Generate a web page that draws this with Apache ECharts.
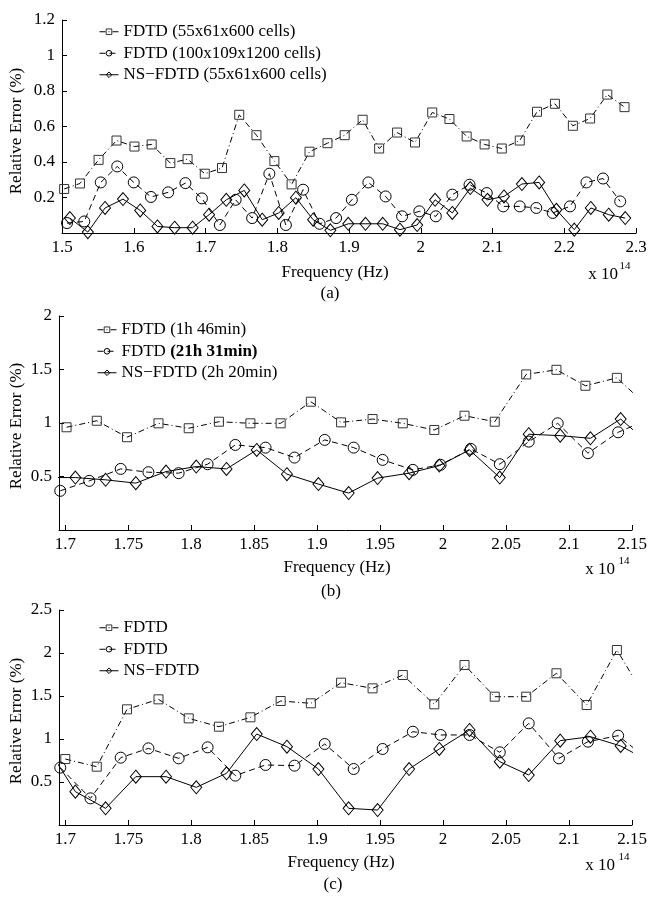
<!DOCTYPE html>
<html>
<head>
<meta charset="utf-8">
<title>Relative error vs frequency</title>
<script src="https://cdn.jsdelivr.net/npm/echarts@6/dist/echarts.min.js"></script>
<style>
  html, body { margin: 0; padding: 0; background: #fff; }
  #chart { width: 649px; height: 898px; }
</style>
</head>
<body>
<div id="chart"></div>
<script>
// panel (a) - frequency in 1e14 Hz, error in %
const aSqFreq = [1.503,1.525,1.551,1.576,1.601,1.625,1.651,1.675,1.699,1.723,1.747,1.771,1.796,1.820,1.845,1.870,1.894,1.919,1.942,1.967,1.992,2.016,2.040,2.064,2.089,2.113,2.138,2.162,2.187,2.212,2.236,2.260,2.284];
const aSqErr  = [0.248,0.279,0.412,0.521,0.487,0.499,0.394,0.416,0.334,0.366,0.666,0.551,0.405,0.274,0.458,0.506,0.551,0.638,0.476,0.566,0.510,0.679,0.642,0.544,0.499,0.476,0.521,0.683,0.728,0.604,0.645,0.780,0.709];
const aCiFreq = [1.507,1.531,1.554,1.577,1.600,1.624,1.648,1.672,1.695,1.720,1.742,1.765,1.789,1.812,1.836,1.859,1.882,1.904,1.927,1.951,1.974,1.998,2.021,2.044,2.068,2.092,2.115,2.138,2.161,2.184,2.208,2.231,2.254,2.278];
const aCiErr  = [0.056,0.065,0.285,0.375,0.285,0.203,0.229,0.281,0.195,0.045,0.187,0.084,0.334,0.045,0.244,0.052,0.084,0.187,0.285,0.206,0.094,0.122,0.094,0.216,0.272,0.225,0.150,0.150,0.141,0.113,0.150,0.285,0.307,0.178];
const aDiFreq = [1.511,1.536,1.560,1.585,1.609,1.633,1.657,1.682,1.705,1.729,1.754,1.779,1.802,1.826,1.850,1.874,1.899,1.923,1.947,1.971,1.995,2.020,2.044,2.069,2.093,2.116,2.141,2.165,2.189,2.214,2.237,2.262,2.285];
const aDiErr  = [0.084,0.005,0.141,0.191,0.127,0.037,0.030,0.030,0.103,0.187,0.240,0.075,0.113,0.199,0.075,0.015,0.052,0.052,0.052,0.019,0.045,0.187,0.113,0.253,0.187,0.206,0.276,0.285,0.131,0.019,0.141,0.103,0.084];

// panel (b)
const bSqFreq = [1.701,1.725,1.749,1.774,1.798,1.822,1.847,1.871,1.895,1.919,1.944,1.968,1.993,2.017,2.041,2.066,2.090,2.113,2.138,2.162];
const bSqErr  = [0.960,1.021,0.867,0.997,0.951,1.012,0.997,0.997,1.199,1.006,1.037,0.997,0.935,1.068,1.012,1.454,1.497,1.348,1.422,1.16];
const bCiFreq = [1.696,1.719,1.744,1.766,1.790,1.813,1.835,1.859,1.882,1.906,1.929,1.952,1.976,1.998,2.022,2.045,2.068,2.091,2.115,2.139,2.162];
const bCiErr  = [0.366,0.459,0.571,0.540,0.531,0.615,0.795,0.770,0.677,0.842,0.770,0.655,0.562,0.609,0.758,0.615,0.826,0.997,0.718,0.913,1.03];
const bDiFreq = [1.684,1.708,1.732,1.756,1.780,1.804,1.828,1.852,1.876,1.901,1.925,1.948,1.973,1.997,2.021,2.045,2.068,2.093,2.117,2.141,2.165];
const bDiErr  = [0.49,0.490,0.469,0.438,0.546,0.593,0.571,0.748,0.522,0.429,0.345,0.485,0.531,0.602,0.748,0.490,0.895,0.882,0.857,1.037,0.79];

// panel (c)
const cSqFreq = [1.700,1.725,1.749,1.774,1.798,1.822,1.847,1.871,1.895,1.919,1.944,1.968,1.993,2.017,2.041,2.066,2.090,2.114,2.138,2.162];
const cSqErr  = [0.767,0.678,1.345,1.461,1.240,1.143,1.252,1.442,1.415,1.655,1.589,1.744,1.403,1.860,1.492,1.492,1.764,1.395,2.035,1.45];
const cCiFreq = [1.696,1.720,1.744,1.766,1.790,1.813,1.835,1.859,1.882,1.906,1.929,1.952,1.976,1.998,2.021,2.045,2.068,2.092,2.115,2.139,2.162];
const cCiErr  = [0.667,0.310,0.783,0.891,0.775,0.903,0.574,0.698,0.690,0.942,0.651,0.884,1.085,1.047,1.047,0.845,1.182,0.775,0.969,1.039,0.77];
const cDiFreq = [1.684,1.708,1.732,1.756,1.780,1.804,1.828,1.852,1.876,1.901,1.925,1.948,1.973,1.997,2.021,2.045,2.068,2.093,2.117,2.141,2.165];
const cDiErr  = [0.94,0.388,0.194,0.562,0.562,0.438,0.601,1.058,0.911,0.651,0.194,0.174,0.651,0.884,1.105,0.736,0.581,0.981,1.027,0.919,0.73];

// tick labels
const bcTicks = [1.7,1.75,1.8,1.85,1.9,1.95,2,2.05,2.1,2.15];

// legend labels
const aNames = ['FDTD (55x61x600 cells)', 'FDTD (100x109x1200 cells)', 'NS\u2212FDTD (55x61x600 cells)'];
const bNames = ['FDTD (1h 46min)', 'FDTD (21h 31min)', 'NS\u2212FDTD (2h 20min)'];
const cNames = ['FDTD', 'FDTD', 'NS\u2212FDTD'];

const FONT = '"Liberation Serif", "Times New Roman", serif';
const chart = echarts.init(document.getElementById('chart'));

const zip = (xs, ys) => xs.map((x, i) => [x, ys[i]]);

// series ids -> legend text
const labelMap = {
  'a0': aNames[0], 'a1': aNames[1], 'a2': aNames[2],
  'b0': bNames[0], 'b1': 'FDTD {b|(21h 31min)}', 'b2': bNames[2],
  'c0': cNames[0], 'c1': cNames[1], 'c2': cNames[2]
};

const styles = [
  { symbol: 'rect', symbolSize: 9, dash: [6, 3, 1, 3], color: '#333' },
  { symbol: 'circle', symbolSize: 11, dash: [6, 4], color: '#000' },
  { symbol: 'diamond', symbolSize: [11, 13], dash: 'solid', color: '#000' }
];

function mkSeries(name, idx, kind, data) {
  const s = styles[kind];
  return {
    name: name,
    type: 'line',
    xAxisIndex: idx,
    yAxisIndex: idx,
    data: data,
    symbol: s.symbol,
    symbolSize: s.symbolSize,
    clip: true,
    lineStyle: { color: '#000', width: 1, type: s.dash },
    itemStyle: { color: 'rgba(0,0,0,0)', borderColor: s.color, borderWidth: 1 },
    emphasis: { disabled: true }
  };
}

function mkX(idx, min, max, extra) {
  return Object.assign({
    gridIndex: idx,
    type: 'value',
    min: min,
    max: max,
    axisLine: { show: true, onZero: false, lineStyle: { color: '#000', width: 1 } },
    axisTick: { show: true, inside: true, length: 5, lineStyle: { color: '#000' } },
    axisLabel: {
      color: '#000', fontSize: 17, fontFamily: FONT, margin: 6,
      showMinLabel: true, showMaxLabel: true,
      formatter: v => String(+v.toFixed(2))
    },
    splitLine: { show: false }
  }, extra || {});
}

function mkY(idx, max) {
  return {
    gridIndex: idx,
    type: 'value',
    min: 0,
    max: max,
    interval: idx === 0 ? 0.2 : 0.5,
    axisLine: { show: true, lineStyle: { color: '#000', width: 1 } },
    axisTick: { show: true, inside: true, length: 5, lineStyle: { color: '#000' } },
    axisLabel: {
      color: '#000', fontSize: 17, fontFamily: FONT, margin: 7,
      formatter: v => (v === 0 ? '' : String(+v.toFixed(1)))
    },
    splitLine: { show: false }
  };
}

function mkLegend(ids, left, top) {
  return {
    data: ids,
    orient: 'vertical',
    left: left,
    top: top,
    padding: 0,
    itemWidth: 19,
    itemHeight: 7,
    itemGap: 0,
    selectedMode: false,
    itemStyle: { borderWidth: 1 },
    lineStyle: { width: 1 },
    formatter: name => labelMap[name],
    textStyle: {
      color: '#000', fontSize: 17, fontFamily: FONT, lineHeight: 21.5,
      rich: { b: { fontWeight: 'bold', fontSize: 17, fontFamily: FONT, color: '#000' } }
    }
  };
}

function txt(x, y, text, size, rot) {
  return {
    type: 'text', x: x, y: y, rotation: rot || 0, silent: true,
    style: { text: text, font: size + 'px ' + FONT, fill: '#000', align: 'center', verticalAlign: 'middle' }
  };
}

const grids = [
  { left: 62, top: 20, width: 574, height: 213 },
  { left: 59, top: 316, width: 573, height: 214 },
  { left: 59, top: 610, width: 573, height: 215 }
];

const option = {
  animation: false,
  backgroundColor: '#fff',
  grid: grids.map(g => Object.assign({ outerBoundsMode: 'none' }, g)),
  xAxis: [
    mkX(0, 1.5, 2.3, { interval: 0.1 }),
    mkX(1, 1.695, 2.15),
    mkX(2, 1.695, 2.15)
  ],
  yAxis: [mkY(0, 1.2), mkY(1, 2), mkY(2, 2.5)],
  legend: [
    mkLegend(['a0', 'a1', 'a2'], 99, 21),
    mkLegend(['b0', 'b1', 'b2'], 97, 319),
    mkLegend(['c0', 'c1', 'c2'], 99, 617)
  ],
  series: [
    mkSeries('a0', 0, 0, zip(aSqFreq, aSqErr)),
    mkSeries('a1', 0, 1, zip(aCiFreq, aCiErr)),
    mkSeries('a2', 0, 2, zip(aDiFreq, aDiErr)),
    mkSeries('b0', 1, 0, zip(bSqFreq, bSqErr)),
    mkSeries('b1', 1, 1, zip(bCiFreq, bCiErr)),
    mkSeries('b2', 1, 2, zip(bDiFreq, bDiErr)),
    mkSeries('c0', 2, 0, zip(cSqFreq, cSqErr)),
    mkSeries('c1', 2, 1, zip(cCiFreq, cCiErr)),
    mkSeries('c2', 2, 2, zip(cDiFreq, cDiErr))
  ],
  graphic: [
    txt(17, 131, 'Relative Error (%)', 17, Math.PI / 2),
    txt(17, 426, 'Relative Error (%)', 17, Math.PI / 2),
    txt(17, 721, 'Relative Error (%)', 17, Math.PI / 2),
    txt(335, 273, 'Frequency (Hz)', 17),
    txt(337, 568, 'Frequency (Hz)', 17),
    txt(341, 863, 'Frequency (Hz)', 17),
    txt(603, 275, 'x 10', 17), txt(625, 266, '14', 11),
    txt(600, 570, 'x 10', 17), txt(624, 561, '14', 11),
    txt(600, 866, 'x 10', 17), txt(624, 857, '14', 11),
    txt(330, 294, '(a)', 17),
    txt(331, 592, '(b)', 17),
    txt(333, 885, '(c)', 17)
  ]
};

// custom tick positions for (b) and (c) since the axis starts just below 1.7
[1, 2].forEach(i => {
  option.xAxis[i].axisTick.customValues = bcTicks;
  option.xAxis[i].axisLabel.customValues = bcTicks;
});

chart.setOption(option);
</script>
</body>
</html>
